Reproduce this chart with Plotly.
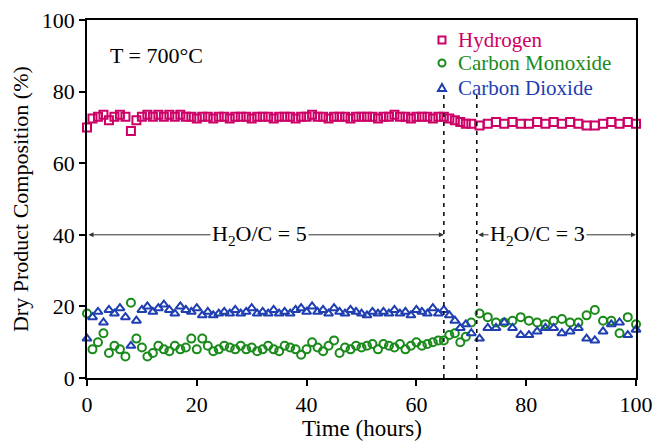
import plotly.graph_objects as go

time_h = [0, 1, 2, 3, 4, 5, 6, 7, 8, 9, 10, 11, 12, 13, 14, 15, 16, 17, 18, 19,
          20, 21, 22, 23, 24, 25, 26, 27, 28, 29, 30, 31, 32, 33, 34, 35, 36, 37, 38, 39,
          40, 41, 42, 43, 44, 45, 46, 47, 48, 49, 50, 51, 52, 53, 54, 55, 56, 57, 58, 59,
          60, 61, 62, 63, 64, 65, 66, 67, 68, 69, 70,
          71.5, 73, 74.5, 76, 77.5, 79, 80.5, 82, 83.5, 85, 86.5, 88, 89.5, 91, 92.5, 94,
          95.5, 97, 98.5, 100]

hydrogen = [70, 72.5, 73, 73.5, 72, 73, 73.5, 73, 69, 72, 73, 73.5, 73, 73.5, 73, 73.5, 73, 73.5, 73, 73,
            72.5, 73, 73, 72.5, 73, 73, 72.5, 73, 73, 73, 72.5, 73, 73, 73, 72.5, 73, 73, 73, 72.5, 73,
            73, 73.5, 73, 73, 72.5, 73, 73, 73, 72.5, 73, 73, 73, 73, 72.5, 73, 73, 73.5, 73, 73, 72.5,
            73, 73, 73, 72.5, 73, 73, 72.5, 72, 71.5, 71, 71,
            70.5, 71, 71.5, 71, 71.5, 71, 71, 71.5, 71, 71.5, 71, 71.5, 71, 70.5, 70.5, 71,
            71.5, 71, 71.5, 71]

carbon_monoxide = [18, 8, 10, 12.5, 7, 9, 8, 6, 21, 11, 8.5, 6, 7, 9, 8, 7.5, 9, 8, 8.5, 11,
                   8, 11, 9, 7.5, 8, 9, 8.5, 8, 9, 8, 8.5, 7.5, 8, 9, 8, 7.5, 9, 8.5, 8, 6.5,
                   8, 10, 8.5, 7.5, 9, 10.5, 7, 8.5, 8, 9, 8.5, 9, 9.5, 8, 9.5, 9, 8.5, 9.5, 8, 9,
                   10, 9, 9.5, 10, 10.5, 10.5, 12, 12.5, 10, 11.5, 15.5,
                   18, 17, 15.5, 15.5, 16, 17, 16, 15.5, 15, 16, 16.5, 15.5, 15.5, 17.5, 19, 16,
                   16, 12.5, 17, 15]

carbon_dioxide = [11, 17, 18.5, 15.5, 19, 18, 19.5, 17, 9, 16, 19, 20, 18.5, 19.5, 20.5, 19, 18, 20, 19, 18.5,
                  19.5, 17.5, 18.5, 17.5, 18, 18.5, 18, 19, 18, 18.5, 19.5, 18, 18.5, 18, 19, 18, 18.5, 18, 19, 19.5,
                  18.5, 20, 18.5, 19, 18, 19.5, 18.5, 18, 19, 18.5, 18, 17.5, 18.5, 18, 18.5, 18, 19, 18, 18.5, 17.5,
                  19, 18.5, 18, 19.5, 18, 19, 17.5, 16, 14, 15, 12.5,
                  11, 14, 14, 15.5, 14, 12, 12, 13, 14, 14, 12.5, 13, 14, 11, 10.5, 13,
                  15, 15.5, 12, 13.5]

series_names = ["Hydrogen", "Carbon Monoxide", "Carbon Dioxide"]
x_ticks = [0, 20, 40, 60, 80, 100]
y_ticks = [0, 20, 40, 60, 80, 100]
switch_times = [65, 71]

C_H2 = "#cc0066"
C_CO = "#1a8a1a"
C_CO2 = "#1f3fb0"
FONT = "Liberation Serif"

fig = go.Figure()
series = [(series_names[0], hydrogen, C_H2, "square-open"),
          (series_names[1], carbon_monoxide, C_CO, "circle-open"),
          (series_names[2], carbon_dioxide, C_CO2, "triangle-up-open")]
for name, vals, col, sym in series:
    fig.add_trace(go.Scatter(
        x=time_h, y=vals, mode="markers", cliponaxis=False, name=name, showlegend=False,
        marker=dict(symbol=sym, size=8, color=col, line=dict(width=2, color=col)),
    ))

for t in switch_times:
    fig.add_shape(type="line", x0=t, x1=t, y0=0, y1=80, xref="x", yref="y",
                  line=dict(color="black", width=1.5, dash="4px,5px"))

# double arrows with regime labels
for (x0, x1, label, xc) in [(0, 65, "H<sub>2</sub>O/C = 5", 31.5), (71, 100, "H<sub>2</sub>O/C = 3", 82)]:
    fig.add_annotation(x=x1, y=40, ax=x0, ay=40, xref="x", yref="y", axref="x", ayref="y",
                       text="", showarrow=True, arrowhead=2, arrowside="end+start",
                       arrowsize=1, arrowwidth=1, arrowcolor="#333333")
    fig.add_annotation(x=xc, y=40, xref="x", yref="y", text=label, showarrow=False,
                       bgcolor="white", font=dict(family=FONT, size=22, color="black"))

fig.add_annotation(x=0.038, y=0.902, xref="paper", yref="paper", text="T = 700°C",
                   showarrow=False, xanchor="left", yanchor="middle",
                   font=dict(family=FONT, size=22, color="black"))

# custom legend (coloured text, marker glyphs as shapes)
leg_y = [0.944, 0.880, 0.810]
leg_cols = [C_H2, C_CO, C_CO2]
leg_mx = 0.6466
for i, (name, col, yy) in enumerate(zip(series_names, leg_cols, leg_y)):
    fig.add_annotation(x=0.672, y=yy, xref="paper", yref="paper", text=name, showarrow=False,
                       xanchor="left", yanchor="middle",
                       font=dict(family=FONT, size=21, color=col))
    common = dict(xref="paper", yref="paper", xsizemode="pixel", ysizemode="pixel",
                  xanchor=leg_mx, yanchor=yy, line=dict(color=col, width=2))
    if i == 0:
        fig.add_shape(type="rect", x0=-3.5, x1=3.5, y0=-3.5, y1=3.5, **common)
    elif i == 1:
        fig.add_shape(type="circle", x0=-3.5, x1=3.5, y0=-3.5, y1=3.5, **common)
    else:
        fig.add_shape(type="path", path="M-4,-3 L4,-3 L0,4 Z", **common)

# axis titles
fig.add_annotation(x=0.5, y=-0.14, xref="paper", yref="paper", text="Time (hours)",
                   showarrow=False, xanchor="center", yanchor="middle",
                   font=dict(family=FONT, size=23, color="black"))
fig.add_annotation(x=-0.122, y=0.5, xref="paper", yref="paper", text="Dry Product Composition (%)",
                   showarrow=False, xanchor="center", yanchor="middle", textangle=-90,
                   font=dict(family=FONT, size=22, color="black"))

axis_common = dict(showline=True, linecolor="black", linewidth=1.5, mirror=True,
                   ticks="outside", ticklen=6, tickcolor="black", tickwidth=1.5,
                   showgrid=False, zeroline=False, automargin=False,
                   tickfont=dict(family=FONT, size=22, color="black"))

fig.update_xaxes(range=[0, 100], tickvals=x_ticks, **axis_common)
fig.update_yaxes(range=[0, 100], tickvals=y_ticks, **axis_common)

fig.update_layout(
    width=656, height=441,
    margin=dict(l=87, r=20, t=20, b=63),
    plot_bgcolor="white", paper_bgcolor="white",
    font=dict(family=FONT, size=22, color="black"),
    showlegend=False,
)

fig.write_html("out.html", config={"displayModeBar": False},
               post_script="document.body.style.margin='0px';")
